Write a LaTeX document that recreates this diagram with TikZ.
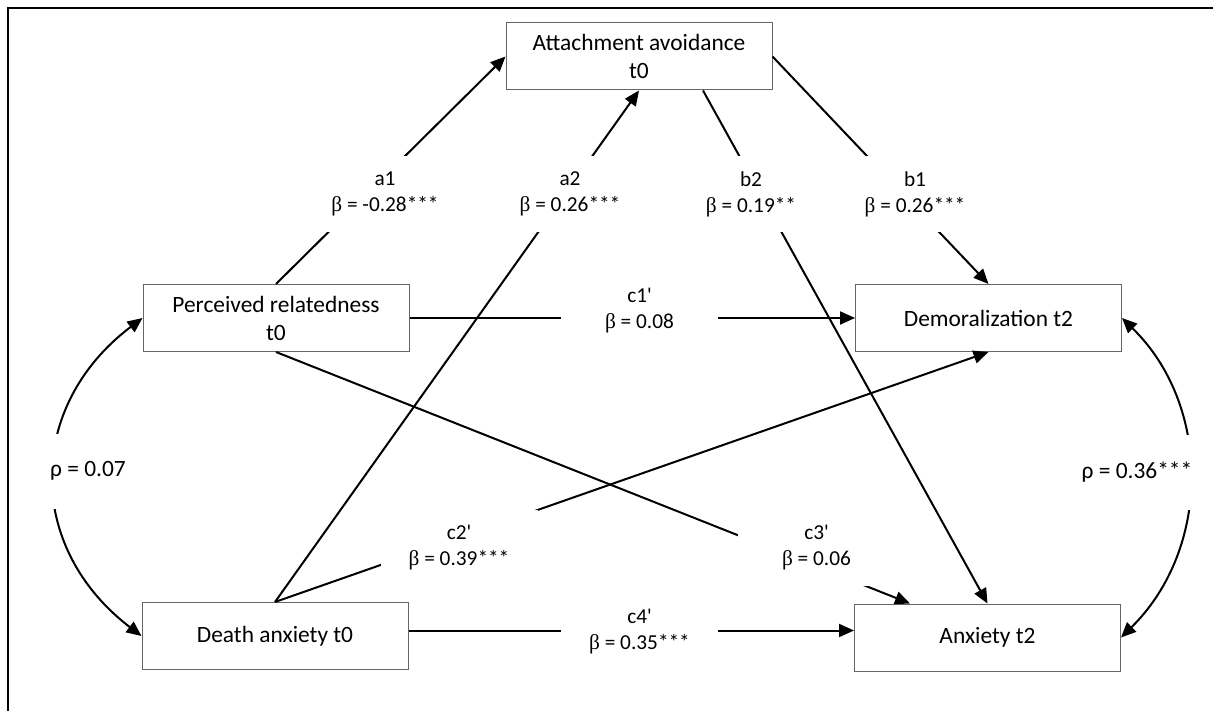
\documentclass[tikz,border=0pt]{standalone}
\usepackage{fontspec}
\setmainfont{Carlito}[Ligatures=TeXOff]
\newfontfamily\greekserif{Liberation Serif}
\usetikzlibrary{arrows.meta}
\newcommand\betasym{{\greekserif β}}

\begin{document}
\begin{tikzpicture}[x=1pt,y=-1pt,
  var/.style={draw=black!60, line width=1pt, minimum width=266pt, minimum height=67pt,
              align=center, inner sep=0pt, font=\fontsize{23.4}{28}\selectfont},
  coef/.style={fill=white, minimum width=157pt, minimum height=76pt, align=center,
               inner sep=0pt, font=\fontsize{21.3}{26}\selectfont},
  corr/.style={coef, minimum width=140pt, minimum height=75pt, font=\fontsize{23.4}{28}\selectfont},
  tipshape/.tip={Triangle[length=15pt,width=13pt]},
  link/.style={line width=2pt, -tipshape},
  cov/.style={line width=2pt, tipshape-tipshape}]

\useasboundingbox (0,0) rectangle (1213,711);

% frame edges
\draw[line width=1.6pt] (8,711) -- (8,8) -- (1213,8);

% variables
\node[var] (aa) at (639,56.5)    {Attachment avoidance\\t0};
\node[var] (pr) at (276,318)     {Perceived relatedness\\t0};
\node[var] (dm) at (988.5,318)   {Demoralization t2};
\node[var] (da) at (275,636)     {Death anxiety t0};
\node[var] (ax) at (987.5,637.5) {Anxiety t2};

\coordinate (c4level) at (0,630.5);

% paths
\draw[link] (pr.north) -- (aa.west);
\draw[link] (da.north) -- (aa.south);
\draw[link] ([xshift=64pt]aa.south) -- (ax.north);
\draw[link] (aa.east) -- (dm.north);
\draw[link] (pr.east) -- (dm.west);
\draw[link] (da.north) -- (dm.south);
\draw[link] (pr.south) -- ([xshift=-77.5pt]ax.north);
\draw[link] (da.east |- c4level) -- (ax.west |- c4level);

% correlations
\draw[cov] (pr.west) .. controls (26,406) and (25,547) .. (da.west);
\draw[cov] (dm.east) .. controls (1212,406) and (1211,549) .. (ax.east);

% coefficients
\node[coef] (la1) at (385,194)   {a1\\\betasym{} = -0.28***};
\node[coef] (la2) at (570,194)   {a2\\\betasym{} = 0.26***};
\node[coef] (lb2) at (751,194)   {b2\\\betasym{} = 0.19**};
\node[coef] (lb1) at (915,194)   {b1\\\betasym{} = 0.26***};
\node[coef] (lc1) at (639.5,311) {c1'\\\betasym{} = 0.08};
\node[coef] (lc2) at (459,548)   {c2'\\\betasym{} = 0.39***};
\node[coef] (lc3) at (816.5,548) {c3'\\\betasym{} = 0.06};
\node[coef] (lc4) at (639.5,632) {c4'\\\betasym{} = 0.35***};
\node[corr] (rl) at (88,471)   {ρ = 0.07};
\node[corr] (rr) at (1137,472) {ρ = 0.36***};

\end{tikzpicture}
\end{document}
